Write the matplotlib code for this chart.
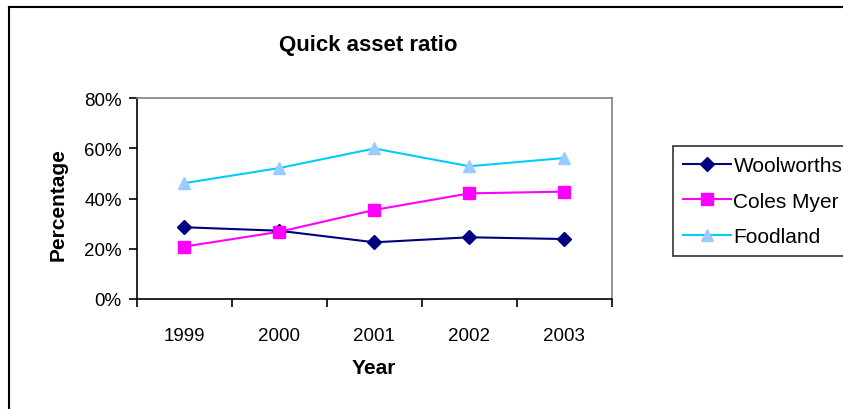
import matplotlib.pyplot as plt
from matplotlib.lines import Line2D
from matplotlib.ticker import FixedLocator, PercentFormatter

plt.rcParams['font.family'] = ['Liberation Sans', 'DejaVu Sans']

# data
years = ['1999', '2000', '2001', '2002', '2003']
woolworths = [28.6, 27.2, 22.6, 24.6, 23.9]
coles_myer = [20.9, 26.8, 35.5, 42.1, 42.8]
foodland = [46.2, 52.2, 60.0, 52.9, 56.2]

fig = plt.figure(figsize=(8.43, 4.10), dpi=100)
ax = fig.add_axes([0.1625, 0.2683, 0.5631, 0.4895])

x = range(len(years))
ax.plot(x, woolworths, color='#000080', lw=1.5, marker='D', ms=7,
        mfc='#000080', mec='#000080', label='Woolworths')
ax.plot(x, coles_myer, color='#FF00FF', lw=1.5, marker='s', ms=8,
        mfc='#FF00FF', mec='#FF00FF', label='Coles Myer')
ax.plot(x, foodland, color='#00CCFF', lw=1.5, marker='^', ms=9,
        mfc='#99CCFF', mec='#99CCFF', label='Foodland')

ax.set_xlim(-0.5, len(years) - 0.5)
ax.set_ylim(0, 80)
ax.set_yticks([0, 20, 40, 60, 80])
ax.yaxis.set_major_formatter(PercentFormatter(decimals=0))

# ticks between categories, labels centred
ax.xaxis.set_major_locator(FixedLocator([i - 0.5 for i in range(len(years) + 1)]))
ax.xaxis.set_major_formatter(plt.NullFormatter())
ax.xaxis.set_minor_locator(FixedLocator(list(x)))
ax.set_xticklabels(years, minor=True)
ax.tick_params(axis='x', which='minor', length=0, pad=20, labelsize=13.5)
ax.tick_params(axis='x', which='major', direction='out', length=6, width=1.2)
ax.tick_params(axis='y', direction='out', length=6, width=1.2, pad=5, labelsize=13.5)

for s in ['top', 'right']:
    ax.spines[s].set_color('#808080')
    ax.spines[s].set_linewidth(1.2)
for s in ['left', 'bottom']:
    ax.spines[s].set_color('black')
    ax.spines[s].set_linewidth(1.2)

fig.text(0.4365, 0.89, 'Quick asset ratio', ha='center', va='center',
         fontsize=16, fontweight='bold')
fig.text(0.4437, 0.1, 'Year', ha='center', va='center',
         fontsize=15, fontweight='bold')
fig.text(0.069, 0.5, 'Percentage', ha='center', va='center', rotation=90,
         fontsize=15, fontweight='bold')

leg = fig.legend(loc='upper left', bbox_to_anchor=(673 / 843, 1 - 147 / 410),
                 fontsize=15, frameon=True, fancybox=False, handlelength=2.3,
                 labelspacing=0.78, borderpad=0.5, handletextpad=0.1,
                 borderaxespad=0)
leg.get_frame().set_edgecolor('black')
leg.get_frame().set_linewidth(1.2)

# outer chart border
fig.add_artist(Line2D([9 / 843, 1], [1 - 8 / 410, 1 - 8 / 410], color='black', lw=1.5))
fig.add_artist(Line2D([9 / 843, 9 / 843], [0, 1 - 8 / 410], color='black', lw=1.5))

fig.savefig('out.png', dpi=100)
